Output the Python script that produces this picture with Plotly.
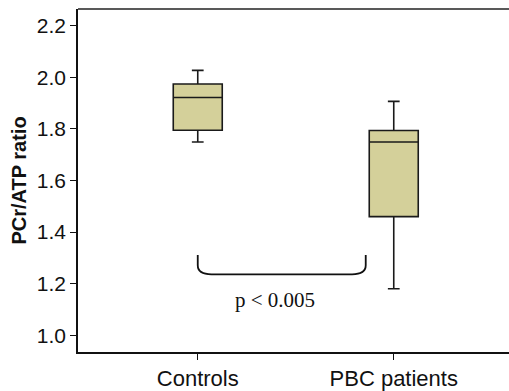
import plotly.graph_objects as go

# Data
categories = ["Controls", "PBC patients"]
positions = [0, 1]
q1 = [1.795, 1.460]
median = [1.922, 1.749]
q3 = [1.974, 1.794]
lower_whisker = [1.749, 1.180]
upper_whisker = [2.027, 1.907]
y_ticks = [1.0, 1.2, 1.4, 1.6, 1.8, 2.0, 2.2]
y_tick_labels = ["1.0", "1.2", "1.4", "1.6", "1.8", "2.0", "2.2"]

# Significance bracket
bracket_x = [0.0, 0.857]
bracket_top = 1.311
bracket_bottom = 1.236
p_text = "p < 0.005"
p_text_x = 0.395
p_text_y = 1.135

fig = go.Figure()
for i in range(len(categories)):
    fig.add_trace(go.Box(
        x=[positions[i]],
        q1=[q1[i]], median=[median[i]], q3=[q3[i]],
        lowerfence=[lower_whisker[i]], upperfence=[upper_whisker[i]],
        width=0.25, whiskerwidth=0.24,
        fillcolor="#d4d09a",
        line=dict(color="#1a1a1a", width=1.6),
        boxpoints=False, hoverinfo="skip", showlegend=False,
    ))

# bracket path with rounded corners (in data coords)
x0, x1 = bracket_x
rx = 0.07
ymid = bracket_bottom + 0.035
path = (f"M {x0},{bracket_top} L {x0},{ymid} Q {x0},{bracket_bottom} {x0+rx},{bracket_bottom} "
        f"L {x1-rx},{bracket_bottom} Q {x1},{bracket_bottom} {x1},{ymid} L {x1},{bracket_top}")
fig.add_shape(type="path", path=path, xref="x", yref="y",
              line=dict(color="#111", width=1.8))
# top frame line
fig.add_shape(type="line", xref="paper", yref="paper", x0=0, x1=1, y0=1, y1=1,
              line=dict(color="#222", width=1.5))

fig.add_annotation(x=p_text_x, y=p_text_y, xref="x", yref="y", text=p_text,
                   showarrow=False,
                   font=dict(family="Liberation Serif, Times New Roman, serif", size=21, color="#111"))

fig.update_layout(
    width=509, height=391,
    margin=dict(l=78, r=0, t=9, b=39, autoexpand=False),
    plot_bgcolor="white", paper_bgcolor="white",
    boxmode="overlay",
    font=dict(family="Liberation Sans, Arial, sans-serif", color="#111"),
)
fig.update_xaxes(
    range=[-0.611, 1.588], tickvals=positions, ticktext=categories,
    showline=True, linecolor="#111", linewidth=1.5,
    ticks="outside", ticklen=6, tickcolor="#111", tickwidth=1,
    showgrid=False, zeroline=False, tickfont=dict(size=22), automargin=False,
)
fig.update_yaxes(
    range=[0.935, 2.265], tickvals=y_ticks, ticktext=y_tick_labels,
    showline=True, linecolor="#111", linewidth=1.5,
    ticks="outside", ticklen=6, tickcolor="#111", tickwidth=1,
    showgrid=False, zeroline=False, tickfont=dict(size=21), automargin=False,
    title=dict(text="<b>PCr/ATP ratio</b>", font=dict(size=20), standoff=5),
)

fig.write_html(
    "out.html",
    config={"displayModeBar": False},
    post_script=(
        "document.documentElement.style.margin='0';"
        "document.documentElement.style.overflow='hidden';"
        "document.body.style.margin='0';"
        "document.body.style.overflow='hidden';"
    ),
)
